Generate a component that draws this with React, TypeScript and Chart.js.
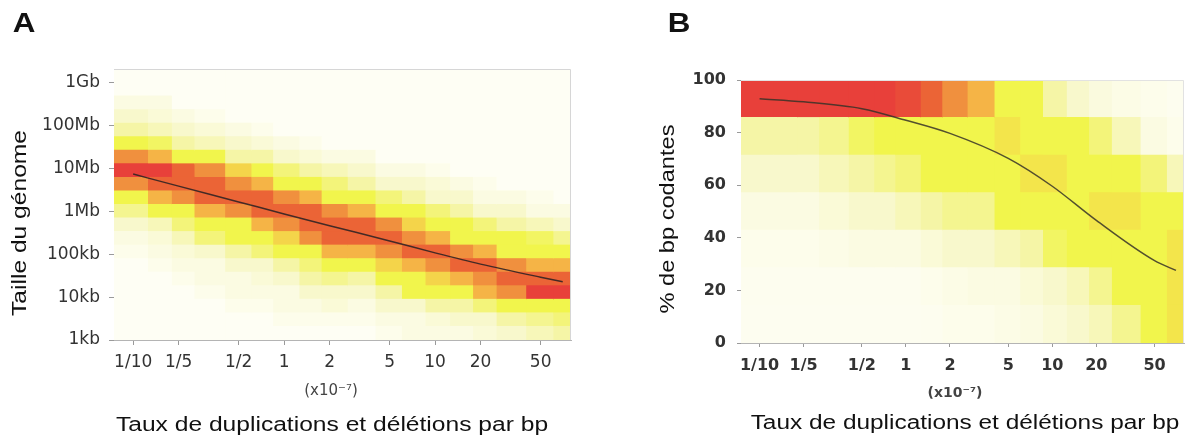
import React, { useEffect, useRef } from 'react';
import { Chart, registerables } from 'chart.js';

Chart.register(...registerables);

// ---------- shared x axis (rate of duplications / deletions per bp, x1e-7) ----------
const rateTickValues = [0.1, 0.2, 0.5, 1, 2, 5, 10, 20, 50];
const rateTickLabels = ['1/10', '1/5', '1/2', '1', '2', '5', '10', '20', '50'];
// heat-map column edges, log10 of the rate
const rateBinEdgesLog10 = [
  -1.127, -0.905, -0.747, -0.597, -0.394, -0.22, -0.076, 0.098, 0.245, 0.418,
  0.602, 0.777, 0.933, 1.096, 1.248, 1.404, 1.6, 1.78, 1.9,
];

// ---------- panel A : genome size ----------
const genomeTickValues = [1e3, 1e4, 1e5, 1e6, 1e7, 1e8, 1e9];
const genomeTickLabels = ['1kb', '10kb', '100kb', '1Mb', '10Mb', '100Mb', '1Gb'];
// heat-map row edges, log10 of genome size (bottom -> top)
const genomeRowEdgesLog10 = [
  3.0, 3.316, 3.633, 3.949, 4.265, 4.581, 4.898, 5.214, 5.53, 5.846, 6.163,
  6.479, 6.795, 7.111, 7.428, 7.744, 8.06, 8.376, 8.693, 9.009, 9.325,
];
// density levels 0..10, rows listed top -> bottom, 18 columns each
const heatGenome = [
  [0, 0, 0, 0, 0, 0, 0, 0, 0, 0, 0, 0, 0, 0, 0, 0, 0, 0],
  [0, 0, 0, 0, 0, 0, 0, 0, 0, 0, 0, 0, 0, 0, 0, 0, 0, 0],
  [1, 1, 0, 0, 0, 0, 0, 0, 0, 0, 0, 0, 0, 0, 0, 0, 0, 0],
  [2, 1.5, 1, 0.5, 0, 0, 0, 0, 0, 0, 0, 0, 0, 0, 0, 0, 0, 0],
  [3, 2.5, 2, 1.5, 1, 0.5, 0, 0, 0, 0, 0, 0, 0, 0, 0, 0, 0, 0],
  [5, 4.5, 3, 2.5, 2, 1.5, 1, 0.5, 0, 0, 0, 0, 0, 0, 0, 0, 0, 0],
  [8, 7, 5, 5, 3, 3, 2, 1.5, 1, 1, 0, 0, 0, 0, 0, 0, 0, 0],
  [10, 10, 9, 8, 6, 5, 4, 3, 2.5, 2, 1, 1, 0.5, 0, 0, 0, 0, 0],
  [8, 9, 9, 9, 8, 7, 5, 5, 4, 3, 2, 2, 1.5, 1, 0.5, 0, 0, 0],
  [5, 7, 8, 9, 9, 9, 8, 7, 5, 5, 4, 3, 2, 2, 1, 1, 0.5, 0],
  [3.5, 5, 5, 7, 8, 9, 9, 9, 8, 7, 5, 5, 4, 3, 2, 2, 1, 1],
  [2, 2.5, 4, 5, 5, 7, 8, 9, 9, 9, 8, 6, 5, 5, 4, 3, 2.5, 2],
  [1, 1.5, 2.5, 4, 5, 5, 6, 8, 9, 9, 9, 8, 7, 5, 5, 5, 4.5, 3.5],
  [0.5, 1, 1.5, 2, 3, 4, 5, 5, 7, 7, 8, 9, 9, 8, 7, 5, 5, 5],
  [0, 0.5, 1, 1, 2, 2, 3, 4, 5, 5, 6, 7, 8, 9, 9, 8, 7, 7],
  [0, 0, 0.5, 1, 1, 1.5, 2, 3, 3.5, 3, 5, 5, 6, 7, 8, 9, 9, 9],
  [0, 0, 0, 0.5, 1, 1, 1, 2, 2, 2, 3, 5, 5, 5, 7, 8, 10, 10],
  [0, 0, 0, 0, 0.5, 0.5, 1, 1, 1.5, 1, 2, 2, 3, 3, 4, 5, 5, 5],
  [0, 0, 0, 0, 0, 0, 0.5, 0.5, 0.5, 0.5, 1, 1, 1.5, 2, 2, 3, 3.5, 4],
  [0, 0, 0, 0, 0, 0, 0, 0, 0, 0, 0.5, 1, 1, 1, 1.5, 2, 2.5, 3],
];
const trendGenomeRate = [0.1, 0.2, 0.5, 1, 2, 5, 10, 20, 50, 70];
const trendGenomeSize = [7.45e6, 3.9e6, 1.67e6, 8.75e5, 4.66e5, 2.05e5, 1.08e5, 5.9e4, 2.93e4, 2.3e4];

// ---------- panel B : % coding bp ----------
const codingTickValues = [0, 20, 40, 60, 80, 100];
const codingRowEdges = [0, 14.29, 28.57, 42.86, 57.14, 71.43, 85.71, 100];
// rows top -> bottom
const heatCoding = [
  [10, 10, 10, 10, 10, 10, 9.7, 9, 8, 7, 5, 5, 3, 2, 1.2, 0.8, 0.5, 0.3],
  [3, 3, 3, 3.5, 4.5, 5, 5, 5, 5, 5, 5.5, 5, 5, 5, 4, 2.5, 1, 0.5],
  [2, 2, 2, 2.5, 3, 3.5, 4, 5, 5, 5, 5, 5.5, 5.5, 5, 5, 5, 4, 2.5],
  [1, 1, 1, 1.5, 2, 2, 2.5, 3, 3.5, 3.5, 5, 5, 5, 5, 5.5, 5.5, 5, 5],
  [0.5, 0.5, 0.5, 0.7, 1, 1, 1, 1.5, 2, 2, 2.5, 3, 4.5, 5, 5, 5, 5, 5.5],
  [0.3, 0.3, 0.3, 0.3, 0.3, 0.3, 0.3, 0.5, 0.8, 1, 1, 1.5, 2, 2.5, 3.5, 5, 5, 5.5],
  [0.2, 0.2, 0.2, 0.2, 0.2, 0.2, 0.2, 0.3, 0.5, 0.5, 0.8, 1, 1.5, 2, 2.5, 3.5, 5, 5.5],
];
const trendCodingRate = [0.1, 0.2, 0.5, 1, 2, 5, 10, 20, 50, 70];
const trendCodingPct = [92.9, 91.7, 89.1, 84.7, 79.7, 70.2, 59.6, 46.6, 31.3, 27.6];

// ---------- colour map (level -> colour) ----------
const paletteColors = [
  '#fefef4', '#fbfbe2', '#f8f8cc', '#f5f5a6', '#f3f47a', '#f1f54c',
  '#f4d44a', '#f5b446', '#f0903e', '#eb6436', '#e8403a',
];

function hexToRgb(h: string) {
  const n = parseInt(h.slice(1), 16);
  return [(n >> 16) & 255, (n >> 8) & 255, n & 255];
}
function heatColor(v: number) {
  const i = Math.max(0, Math.min(paletteColors.length - 2, Math.floor(v)));
  const t = Math.max(0, Math.min(1, v - i));
  const a = hexToRgb(paletteColors[i]);
  const b = hexToRgb(paletteColors[i + 1]);
  const c = a.map((x, k) => Math.round(x + (b[k] - x) * t));
  return `rgb(${c[0]},${c[1]},${c[2]})`;
}

function heatDatasets(heat: number[][], rowEdges: number[], logY: boolean) {
  const nRows = heat.length;
  const nCols = heat[0].length;
  const out: any[] = [];
  for (let c = 0; c < nCols; c++) {
    const x0 = Math.pow(10, rateBinEdgesLog10[c]);
    const x1 = Math.pow(10, rateBinEdgesLog10[c + 1]);
    const data: any[] = [];
    const colors: string[] = [];
    for (let k = 0; k < nRows; k++) {
      const b = nRows - 1 - k;
      const lo = rowEdges[b];
      const hi = rowEdges[b + 1];
      const yc = logY ? Math.pow(10, (lo + hi) / 2) : (lo + hi) / 2;
      data.push({ y: yc, x: [x0, x1] });
      colors.push(heatColor(heat[k][c]));
    }
    out.push({
      type: 'bar',
      indexAxis: 'y',
      data,
      backgroundColor: colors,
      borderWidth: 0,
      grouped: false,
      barPercentage: 1,
      categoryPercentage: 1,
      inflateAmount: 0.5,
      order: 2,
    });
  }
  return out;
}

function labelFrom(values: number[], labels: string[], v: number) {
  for (let i = 0; i < values.length; i++) {
    if (Math.abs(values[i] - v) <= Math.abs(values[i]) * 1e-6 + 1e-9) return labels[i];
  }
  return '';
}

const framePlugin = {
  id: 'frame',
  afterDraw(chart: any, _args: any, opts: any) {
    const { ctx, chartArea: a } = chart;
    ctx.save();
    ctx.strokeStyle = opts.color || '#d8d8d8';
    ctx.lineWidth = 1;
    ctx.beginPath();
    ctx.moveTo(a.left, a.top + 0.5);
    ctx.lineTo(a.right - 0.5, a.top + 0.5);
    ctx.lineTo(a.right - 0.5, a.bottom);
    ctx.stroke();
    ctx.restore();
  },
};

function rateAxis(height: number, font: any, tickLen: number, pad: number) {
  return {
    type: 'logarithmic',
    min: Math.pow(10, rateBinEdgesLog10[0]),
    max: Math.pow(10, rateBinEdgesLog10[rateBinEdgesLog10.length - 1]),
    offset: false,
    afterBuildTicks: (s: any) => {
      s.ticks = rateTickValues.map((v) => ({ value: v }));
    },
    afterFit: (s: any) => {
      s.height = height;
    },
    ticks: {
      autoSkip: false,
      maxRotation: 0,
      minRotation: 0,
      padding: pad,
      color: '#333',
      font,
      callback: (v: any) => labelFrom(rateTickValues, rateTickLabels, Number(v)),
    },
    grid: { display: true, drawOnChartArea: false, drawTicks: true, tickLength: tickLen, color: '#9a9a9a', offset: false },
    border: { display: true, color: '#b4b4b4' },
  };
}

function configGenome(): any {
  const font = { family: 'DejaVu Sans', size: 17 };
  return {
    type: 'line',
    data: {
      datasets: [
        {
          type: 'line',
          data: trendGenomeRate.map((x, i) => ({ x, y: trendGenomeSize[i] })),
          borderColor: 'rgba(50,35,35,0.9)',
          borderWidth: 1.5,
          pointRadius: 0,
          fill: false,
          tension: 0.4,
          cubicInterpolationMode: 'monotone',
          order: 0,
        },
        ...heatDatasets(heatGenome, genomeRowEdgesLog10, true),
      ],
    },
    options: {
      responsive: false,
      animation: false,
      devicePixelRatio: 1,
      layout: { padding: { left: 0, right: 29, top: 69, bottom: 0 } },
      plugins: { legend: { display: false }, tooltip: { enabled: false }, frame: { color: '#d6d6d6' } },
      scales: {
        x: rateAxis(101, font, 5, 7),
        y: {
          type: 'logarithmic',
          min: Math.pow(10, genomeRowEdgesLog10[0]),
          max: Math.pow(10, genomeRowEdgesLog10[genomeRowEdgesLog10.length - 1]),
          offset: false,
          afterBuildTicks: (s: any) => {
            s.ticks = genomeTickValues.map((v) => ({ value: v }));
          },
          afterFit: (s: any) => {
            s.width = 114;
          },
          ticks: {
            autoSkip: false,
            padding: 9,
            color: '#333',
            font,
            callback: (v: any) => labelFrom(genomeTickValues, genomeTickLabels, Number(v)),
          },
          grid: { display: true, drawOnChartArea: false, drawTicks: true, tickLength: 5, color: '#9a9a9a', offset: false },
          border: { display: true, color: '#b4b4b4' },
        },
      },
    },
    plugins: [framePlugin],
  };
}

function configCoding(): any {
  const font = { family: 'DejaVu Sans', size: 16, weight: 'bold' };
  return {
    type: 'line',
    data: {
      datasets: [
        {
          type: 'line',
          data: trendCodingRate.map((x, i) => ({ x, y: trendCodingPct[i] })),
          borderColor: 'rgba(55,50,40,0.85)',
          borderWidth: 1.5,
          pointRadius: 0,
          fill: false,
          tension: 0.4,
          cubicInterpolationMode: 'monotone',
          order: 0,
        },
        ...heatDatasets(heatCoding, codingRowEdges, false),
      ],
    },
    options: {
      responsive: false,
      animation: false,
      devicePixelRatio: 1,
      layout: { padding: { left: 0, right: 7, top: 80, bottom: 0 } },
      plugins: { legend: { display: false }, tooltip: { enabled: false }, frame: { color: '#e2e2e2' } },
      scales: {
        x: rateAxis(98, font, 4, 9),
        y: {
          type: 'linear',
          min: codingRowEdges[0],
          max: codingRowEdges[codingRowEdges.length - 1],
          offset: false,
          afterBuildTicks: (s: any) => {
            s.ticks = codingTickValues.map((v) => ({ value: v }));
          },
          afterFit: (s: any) => {
            s.width = 141;
          },
          ticks: { autoSkip: false, padding: 11, color: '#333', font },
          grid: { display: true, drawOnChartArea: false, drawTicks: true, tickLength: 4, color: '#9a9a9a', offset: false },
          border: { display: true, color: '#b4b4b4' },
        },
      },
    },
    plugins: [framePlugin],
  };
}

const titleFont = '"Liberation Sans", Arial, sans-serif';

function Txt(props: {
  text: string;
  x: number;
  y: number;
  size: number;
  weight?: string | number;
  family?: string;
  color?: string;
  rotate?: boolean;
  stretch?: number;
}) {
  const { text, x, y, size, weight = 'normal', family = titleFont, color = '#111', rotate = false, stretch = 1 } = props;
  return (
    <div
      style={{
        position: 'absolute',
        left: x,
        top: y,
        whiteSpace: 'nowrap',
        fontFamily: family,
        fontSize: size,
        fontWeight: weight as any,
        lineHeight: 1,
        color,
        transform: `translate(-50%, -50%)${rotate ? ' rotate(-90deg)' : ''} scaleX(${stretch})`,
        transformOrigin: 'center center',
      }}
    >
      {text}
    </div>
  );
}

export default function App() {
  const refA = useRef<HTMLCanvasElement>(null);
  const refB = useRef<HTMLCanvasElement>(null);

  useEffect(() => {
    const a = new Chart(refA.current as HTMLCanvasElement, configGenome());
    const b = new Chart(refB.current as HTMLCanvasElement, configCoding());
    return () => {
      a.destroy();
      b.destroy();
    };
  }, []);

  return (
    <div style={{ position: 'absolute', left: 0, top: 0, width: 1191, height: 441, background: '#fff', overflow: 'hidden' }}>
      <canvas ref={refA} width={600} height={441} style={{ position: 'absolute', left: 0, top: 0 }} />
      <canvas ref={refB} width={591} height={441} style={{ position: 'absolute', left: 600, top: 0 }} />

      <Txt text="A" x={24} y={23} size={28} weight="bold" stretch={1.12} />
      <Txt text="B" x={679} y={23} size={28} weight="bold" stretch={1.12} />

      <Txt text="Taille du génome" x={19} y={223} size={20} rotate stretch={1.23} />
      <Txt text="% de bp codantes" x={667} y={219} size={20} rotate stretch={1.18} />

      <Txt text="(x10⁻⁷)" x={331} y={390} size={15} family="DejaVu Sans" color="#444" />
      <Txt text="(x10⁻⁷)" x={955} y={392} size={14} family="DejaVu Sans" weight="bold" color="#444" />

      <Txt text="Taux de duplications et délétions par bp" x={332} y={424} size={20} stretch={1.23} />
      <Txt text="Taux de duplications et délétions par bp" x={965} y={422} size={20} stretch={1.22} />
    </div>
  );
}
